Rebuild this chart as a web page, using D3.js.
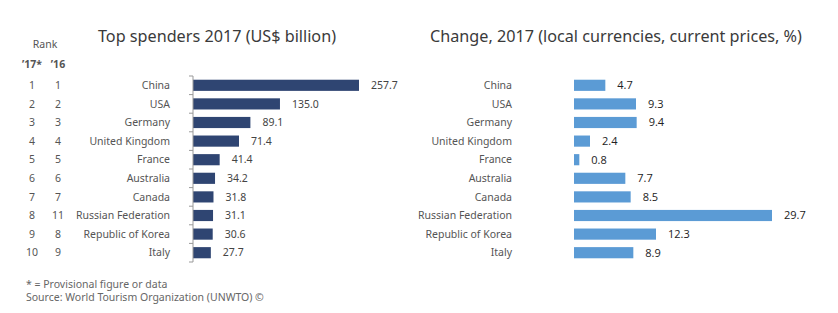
<!DOCTYPE html>
<html>
<head>
<meta charset="utf-8">
<script src="https://cdn.jsdelivr.net/npm/d3@7"></script>
<style>
  body { margin: 0; background: #fff; }
  text { font-family: "Noto Sans", "Open Sans", sans-serif; }
  .ttl { font-size: 16.2px; fill: #3a3a3a; }
  .cat { font-size: 10.5px; fill: #555; }
  .rank { font-size: 10.5px; fill: #555; }
  .val { font-size: 10.5px; fill: #444; }
  .val2 { font-size: 11px; fill: #222; font-family: "Open Sans", sans-serif; }
  .note { font-size: 10.5px; fill: #666; }
</style>
</head>
<body>
<div id="chart"></div>
<script>
var width = 838,
  height = 313;

var countries = ['China', 'USA', 'Germany', 'United Kingdom', 'France', 'Australia',
  'Canada', 'Russian Federation', 'Republic of Korea', 'Italy'];
var rank17 = ['1', '2', '3', '4', '5', '6', '7', '8', '9', '10'];
var rank16 = ['1', '2', '3', '4', '5', '6', '7', '11', '8', '9'];
var spend = [257.7, 135.0, 89.1, 71.4, 41.4, 34.2, 31.8, 31.1, 30.6, 27.7];
var change = [4.7, 9.3, 9.4, 2.4, 0.8, 7.7, 8.5, 29.7, 12.3, 8.9];

var svg = d3.select('#chart').append('svg')
  .attr('width', width)
  .attr('height', height);

var y = d3.scaleBand()
  .domain(countries)
  .range([76, 262])
  .paddingInner(0.4)
  .paddingOuter(0.2);

var xL = d3.scaleLinear().domain([0, 257.7]).range([193, 359]);
var xR = d3.scaleLinear().domain([0, 29.7]).range([574, 772]);

// titles
svg.append('text').attr('class', 'ttl').attr('x', 98).attr('y', 42)
  .text('Top spenders 2017 (US$ billion)');
svg.append('text').attr('class', 'ttl').attr('x', 430).attr('y', 42)
  .text('Change, 2017 (local currencies, current prices, %)');

// rank headers
svg.append('text').attr('class', 'rank').attr('x', 45).attr('y', 48)
  .attr('text-anchor', 'middle').text('Rank');
svg.append('text').attr('class', 'rank').attr('x', 32).attr('y', 68)
  .attr('text-anchor', 'middle').style('font-weight', 'bold').text('\u201917*');
svg.append('text').attr('class', 'rank').attr('x', 58).attr('y', 68)
  .attr('text-anchor', 'middle').style('font-weight', 'bold').text('\u201916');

var mid = function(d) { return y(d) + y.bandwidth() / 2; };

svg.selectAll('.r17').data(countries).enter().append('text')
  .attr('class', 'rank').attr('x', 32).attr('y', mid).attr('dy', '0.35em')
  .attr('text-anchor', 'middle')
  .text(function(d, i) { return rank17[i]; });
svg.selectAll('.r16').data(countries).enter().append('text')
  .attr('class', 'rank').attr('x', 58).attr('y', mid).attr('dy', '0.35em')
  .attr('text-anchor', 'middle')
  .text(function(d, i) { return rank16[i]; });

// left chart
svg.selectAll('.catL').data(countries).enter().append('text')
  .attr('class', 'cat').attr('x', 170).attr('y', mid).attr('dy', '0.35em')
  .attr('text-anchor', 'end').text(function(d) { return d; });

svg.selectAll('.barL').data(countries).enter().append('rect')
  .attr('x', xL(0))
  .attr('y', function(d) { return y(d); })
  .attr('width', function(d, i) { return xL(spend[i]) - xL(0); })
  .attr('height', y.bandwidth())
  .attr('fill', '#2f4572');

svg.selectAll('.valL').data(countries).enter().append('text')
  .attr('class', 'val')
  .attr('x', function(d, i) { return xL(spend[i]) + 12; })
  .attr('y', mid).attr('dy', '0.35em')
  .text(function(d, i) { return spend[i].toFixed(1); });

// axis line with ticks between bands
var ticksY = countries.map(function(d) { return y(d) - y.step() * y.paddingInner() / 2; });
ticksY.push(y(countries[9]) + y.bandwidth() + y.step() * y.paddingInner() / 2);
svg.append('line').attr('x1', 193).attr('x2', 193)
  .attr('y1', ticksY[0]).attr('y2', ticksY[ticksY.length - 1])
  .attr('stroke', '#999').attr('stroke-width', 1);
svg.selectAll('.tk').data(ticksY).enter().append('line')
  .attr('x1', 189).attr('x2', 193)
  .attr('y1', function(d) { return d; }).attr('y2', function(d) { return d; })
  .attr('stroke', '#999');

// right chart
svg.selectAll('.catR').data(countries).enter().append('text')
  .attr('class', 'cat').attr('x', 512).attr('y', mid).attr('dy', '0.35em')
  .attr('text-anchor', 'end').text(function(d) { return d; });

svg.selectAll('.barR').data(countries).enter().append('rect')
  .attr('x', xR(0))
  .attr('y', function(d) { return y(d); })
  .attr('width', function(d, i) { return xR(change[i]) - xR(0); })
  .attr('height', y.bandwidth())
  .attr('fill', '#5b9bd5');

svg.selectAll('.valR').data(countries).enter().append('text')
  .attr('class', 'val2')
  .attr('x', function(d, i) { return xR(change[i]) + 12; })
  .attr('y', mid).attr('dy', '0.35em')
  .text(function(d, i) { return change[i].toFixed(1); });

// notes
svg.append('text').attr('class', 'note').attr('x', 26).attr('y', 288)
  .text('*  =  Provisional figure or data');
svg.append('text').attr('class', 'note').attr('x', 26).attr('y', 301)
  .text('Source: World Tourism Organization (UNWTO) \u00a9');
</script>
</body>
</html>
